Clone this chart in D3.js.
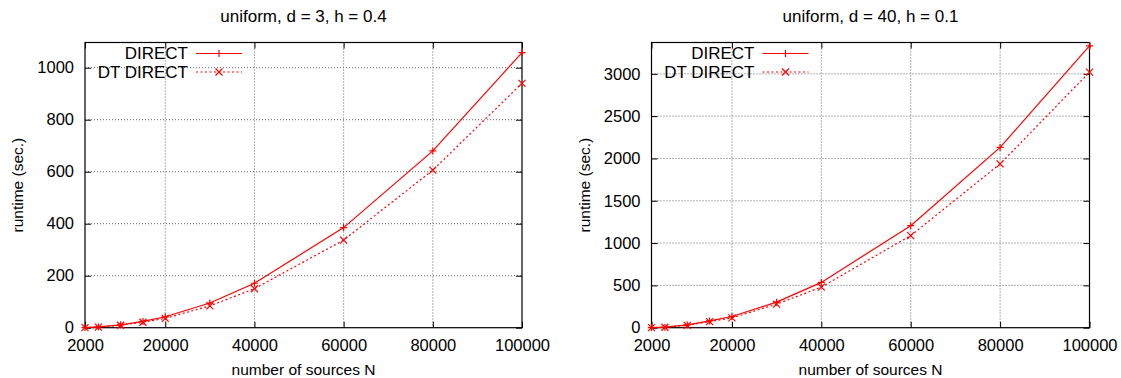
<!DOCTYPE html>
<html>
<head>
<meta charset="utf-8">
<title>runtime vs number of sources</title>
<script src="https://d3js.org/d3.v7.min.js"></script>
<style>
  body { margin: 0; background: #fff; }
  svg { display: block; font-family: "Liberation Sans", Arial, sans-serif; }
  .tick_label { font-size: 16.5px; fill: #000; }
  .title { font-size: 17px; fill: #000; }
  .axis_label { font-size: 15.5px; fill: #000; }
  .legend_text { font-size: 17px; fill: #000; }
  .grid line { stroke: #666; stroke-width: 1; stroke-dasharray: 1,2; }
  .border { fill: none; stroke: #000; stroke-width: 1.2; }
</style>
</head>
<body>
<div id="chart"></div>
<script>

// number of sources (x values)
const sourcesN = [2000, 5000, 10000, 15000, 20000, 30000, 40000, 60000, 80000, 100000];

// uniform, d = 3, h = 0.4
const directD3   = [0.5, 3, 11, 24, 42, 95, 171, 385, 680, 1058];
const dtDirectD3 = [0.4, 2.5, 9.5, 21, 36, 84, 150, 337, 606, 940];

// uniform, d = 40, h = 0.1
const directD40   = [1, 6, 33, 80, 132, 302, 535, 1205, 2130, 3330];
const dtDirectD40 = [0.8, 5, 28, 72, 116, 278, 480, 1088, 1935, 3020];

// ticks
const xTicks = [2000, 20000, 40000, 60000, 80000, 100000];
const yTicksD3 = [0, 200, 400, 600, 800, 1000];
const yTicksD40 = [0, 500, 1000, 1500, 2000, 2500, 3000];

const seriesNames = ["DIRECT", "DT DIRECT"];

const svg = d3.select("#chart")
    .append("svg")
        .attr("width", 1121)
        .attr("height", 378);

function drawPanel(p) {
    const x = d3.scaleLinear().domain([2000, 100000]).range([p.left, p.right]);
    const y = d3.scaleLinear().domain([0, p.ymax]).range([p.bottom, p.top]);
    const g = svg.append("g");

    // grid
    const grid = g.append("g").attr("class", "grid");
    grid.selectAll(".gx")
        .data(xTicks.filter(t => t > 2000 && t < 100000))
        .enter().append("line")
            .attr("x1", d => x(d)).attr("x2", d => x(d))
            .attr("y1", p.top).attr("y2", p.bottom);
    grid.selectAll(".gy")
        .data(p.yTicks.filter(t => t > 0))
        .enter().append("line")
            .attr("x1", p.left).attr("x2", p.right)
            .attr("y1", d => y(d)).attr("y2", d => y(d));

    // axes with inward ticks (mirrored)
    g.append("g")
        .attr("transform", `translate(0,${p.bottom})`)
        .call(d3.axisBottom(x).tickValues(xTicks).tickSize(-6).tickPadding(11.5).tickFormat(d3.format("d")))
        .call(a => a.select(".domain").remove())
        .call(a => a.selectAll("text").attr("class", "tick_label").attr("font-size", null).attr("font-family", null));
    g.append("g")
        .attr("transform", `translate(0,${p.top})`)
        .call(d3.axisTop(x).tickValues(xTicks).tickSize(-6).tickFormat(""))
        .call(a => a.select(".domain").remove());
    g.append("g")
        .attr("transform", `translate(${p.left},0)`)
        .call(d3.axisLeft(y).tickValues(p.yTicks).tickSize(-6).tickPadding(11).tickFormat(d3.format("d")))
        .call(a => a.select(".domain").remove())
        .call(a => a.selectAll("text").attr("class", "tick_label").attr("font-size", null).attr("font-family", null));
    g.append("g")
        .attr("transform", `translate(${p.right},0)`)
        .call(d3.axisRight(y).tickValues(p.yTicks).tickSize(-6).tickFormat(""))
        .call(a => a.select(".domain").remove());
    g.selectAll(".tick line").attr("stroke", "#000");

    // border
    g.append("rect")
        .attr("class", "border")
        .attr("x", p.left).attr("y", p.top)
        .attr("width", p.right - p.left).attr("height", p.bottom - p.top);

    // lines
    const line = d3.line().x((d, i) => x(sourcesN[i])).y(d => y(d));
    g.append("path")
        .datum(p.direct)
        .attr("fill", "none").attr("stroke", "#ff0000").attr("stroke-width", 1.2)
        .attr("d", line);
    g.append("path")
        .datum(p.dtDirect)
        .attr("fill", "none").attr("stroke", "#ff0000").attr("stroke-width", 1.2)
        .attr("stroke-dasharray", "2,2.5")
        .attr("d", line);

    // markers
    const plus = (cx, cy) => `M${cx-3.5},${cy}H${cx+3.5}M${cx},${cy-3.5}V${cy+3.5}`;
    const cross = (cx, cy) => `M${cx-3.5},${cy-3.5}L${cx+3.5},${cy+3.5}M${cx-3.5},${cy+3.5}L${cx+3.5},${cy-3.5}`;
    g.selectAll(".m_direct")
        .data(p.direct)
        .enter().append("path")
            .attr("stroke", "#ff0000").attr("stroke-width", 1.2)
            .attr("d", (d, i) => plus(x(sourcesN[i]), y(d)));
    g.selectAll(".m_dt")
        .data(p.dtDirect)
        .enter().append("path")
            .attr("stroke", "#ff0000").attr("stroke-width", 1.2)
            .attr("d", (d, i) => cross(x(sourcesN[i]), y(d)));

    // legend
    const lg = g.append("g");
    seriesNames.forEach((name, i) => {
        const ly = p.top + 11 + i * 18.5;
        lg.append("text")
            .attr("class", "legend_text")
            .attr("x", p.left + 103).attr("y", ly)
            .attr("dy", "0.35em")
            .attr("text-anchor", "end")
            .text(name);
        lg.append("line")
            .attr("x1", p.left + 111).attr("x2", p.left + 157)
            .attr("y1", ly).attr("y2", ly)
            .attr("stroke", "#ff0000").attr("stroke-width", 1.2)
            .attr("stroke-dasharray", i === 1 ? "2,2.5" : null);
        const mx = p.left + 134;
        lg.append("path")
            .attr("stroke", "#ff0000").attr("stroke-width", 1.2)
            .attr("d", i === 0 ? plus(mx, ly) : cross(mx, ly));
    });

    // titles
    const cx = (p.left + p.right) / 2;
    g.append("text")
        .attr("class", "title")
        .attr("x", cx).attr("y", 22)
        .attr("text-anchor", "middle")
        .text(p.title);
    g.append("text")
        .attr("class", "axis_label")
        .attr("x", cx).attr("y", 375)
        .attr("text-anchor", "middle")
        .text("number of sources N");
    g.append("text")
        .attr("class", "axis_label")
        .attr("transform", `translate(${p.ylabelX},${(p.top + p.bottom) / 2}) rotate(-90)`)
        .attr("text-anchor", "middle")
        .text("runtime (sec.)");
}

drawPanel({
    title: "uniform, d = 3, h = 0.4",
    left: 85, right: 522, top: 42.5, bottom: 327.7,
    ymax: 1097, yTicks: yTicksD3,
    direct: directD3, dtDirect: dtDirectD3,
    ylabelX: 23
});

drawPanel({
    title: "uniform, d = 40, h = 0.1",
    left: 651.5, right: 1089.5, top: 42.5, bottom: 327.7,
    ymax: 3370, yTicks: yTicksD40,
    direct: directD40, dtDirect: dtDirectD40,
    ylabelX: 590
});

</script>
</body>
</html>
